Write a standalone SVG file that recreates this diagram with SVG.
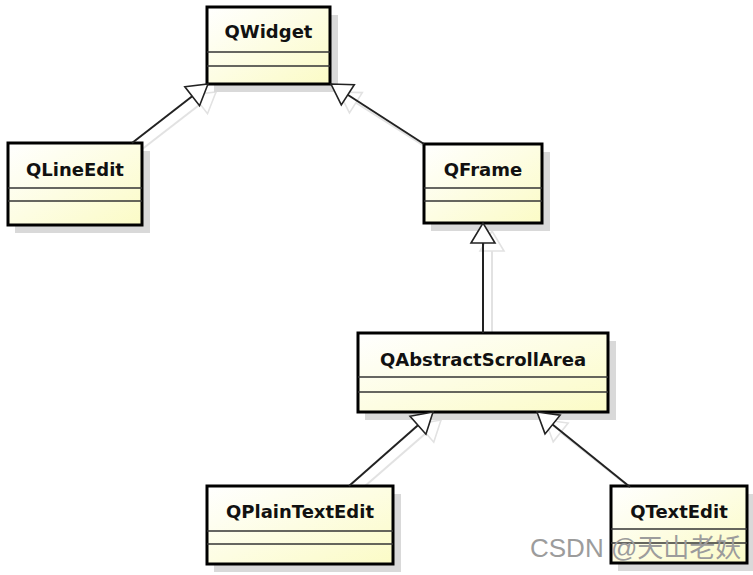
<svg xmlns="http://www.w3.org/2000/svg" width="753" height="575" viewBox="0 0 753 575">
<style>
.shadow{fill:#d9d9d9;}
.box{fill:url(#g);stroke:#000;stroke-width:3;}
.div{stroke:#333;stroke-width:1.3;}
.lbl{font-family:"DejaVu Sans","Liberation Sans",sans-serif;font-weight:bold;font-size:18px;fill:#111;text-anchor:middle;}
.conn{fill:none;stroke:#222;stroke-width:2;marker-end:url(#tri);}
.conns{fill:none;stroke:#e2e2e2;stroke-width:2;marker-end:url(#tris);}
.wm{font-family:"Liberation Sans","Noto Sans CJK SC",sans-serif;font-size:26px;fill:#9c9c9c;}
</style>
<defs>
<linearGradient id="g" x1="0" y1="0" x2="1" y2="1">
<stop offset="0" stop-color="#ffffff"/>
<stop offset="1" stop-color="#fbfbc6"/>
</linearGradient>
<marker id="tri" viewBox="0 0 20 24" refX="20" refY="12" markerWidth="20" markerHeight="24" markerUnits="userSpaceOnUse" orient="auto" overflow="visible">
<path d="M0,0 L20,12 L0,24 Z" fill="#fff" stroke="#222" stroke-width="1.6"/>
</marker>
<marker id="tris" viewBox="0 0 20 24" refX="20" refY="12" markerWidth="20" markerHeight="24" markerUnits="userSpaceOnUse" orient="auto" overflow="visible">
<path d="M0,0 L20,12 L0,24 Z" fill="#fff" stroke="#e2e2e2" stroke-width="1.6"/>
</marker>
</defs>
<g id="connector-shadows">
<path class="conns" d="M141,150 L216,92"/>
<path class="conns" d="M432,151 L339,92"/>
<path class="conns" d="M492,340 L492,231"/>
<path class="conns" d="M357,493 L441,420"/>
<path class="conns" d="M638,494 L545,420"/>
</g>
<g id="QWidget">
<rect class="shadow" x="214" y="15" width="124" height="77"/>
<rect class="box" x="207" y="7" width="123" height="77"/>
<line class="div" x1="207" y1="52" x2="330" y2="52"/>
<line class="div" x1="207" y1="66" x2="330" y2="66"/>
<text class="lbl" x="268.5" y="38">QWidget</text>
</g>
<g id="QLineEdit">
<rect class="shadow" x="15" y="151" width="135" height="82"/>
<rect class="box" x="8" y="143" width="134" height="82"/>
<line class="div" x1="8" y1="188" x2="142" y2="188"/>
<line class="div" x1="8" y1="201" x2="142" y2="201"/>
<text class="lbl" x="75" y="176">QLineEdit</text>
</g>
<g id="QFrame">
<rect class="shadow" x="431" y="152" width="119" height="79"/>
<rect class="box" x="424" y="144" width="118" height="79"/>
<line class="div" x1="424" y1="188" x2="542" y2="188"/>
<line class="div" x1="424" y1="201" x2="542" y2="201"/>
<text class="lbl" x="483" y="176">QFrame</text>
</g>
<g id="QAbstractScrollArea">
<rect class="shadow" x="365" y="341" width="251" height="79"/>
<rect class="box" x="358" y="333" width="250" height="79"/>
<line class="div" x1="358" y1="377" x2="608" y2="377"/>
<line class="div" x1="358" y1="392" x2="608" y2="392"/>
<text class="lbl" x="483" y="366">QAbstractScrollArea</text>
</g>
<g id="QPlainTextEdit">
<rect class="shadow" x="214" y="494" width="187" height="78"/>
<rect class="box" x="207" y="486" width="186" height="78"/>
<line class="div" x1="207" y1="531" x2="393" y2="531"/>
<line class="div" x1="207" y1="544" x2="393" y2="544"/>
<text class="lbl" x="300" y="518">QPlainTextEdit</text>
</g>
<g id="QTextEdit">
<rect class="shadow" x="618" y="494" width="135" height="77"/>
<rect class="box" x="611" y="486" width="136" height="77"/>
<line class="div" x1="611" y1="529" x2="747" y2="529"/>
<line class="div" x1="611" y1="543" x2="747" y2="543"/>
<text class="lbl" x="679" y="518">QTextEdit</text>
</g>
<g id="connectors">
<path class="conn" d="M132,143 L208,84"/>
<path class="conn" d="M424,144 L331,84"/>
<path class="conn" d="M483,333 L483,223"/>
<path class="conn" d="M349,486 L433,412"/>
<path class="conn" d="M630,487 L537,412"/>
</g>
<text class="wm" x="530" y="557">CSDN @天山老妖</text>
</svg>
